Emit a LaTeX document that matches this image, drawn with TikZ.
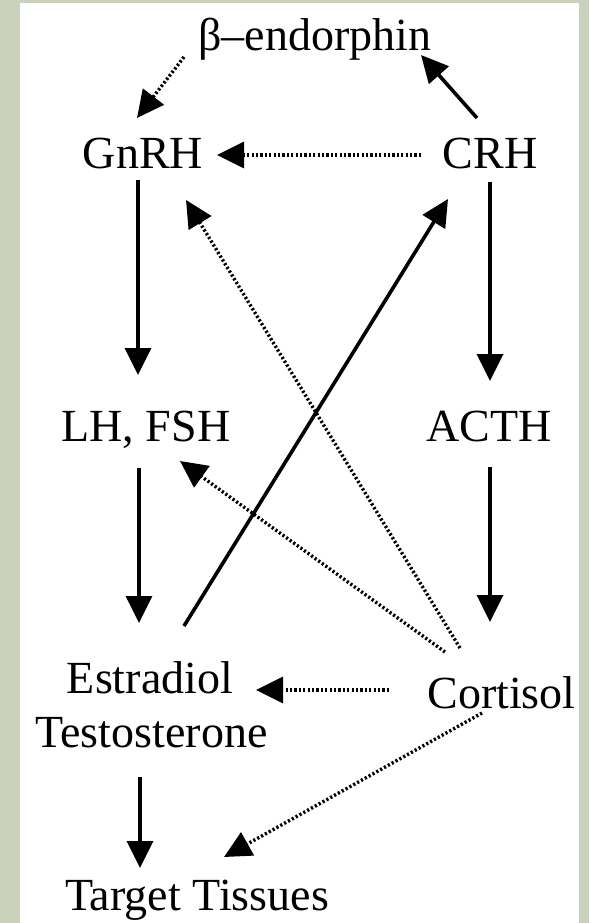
\documentclass[tikz,border=0pt]{standalone}
\usepackage{fontspec}
\setmainfont{Liberation Serif}
\usetikzlibrary{arrows.meta,calc}
\definecolor{framegrey}{RGB}{202,210,189}
\tikzset{
  hormone/.style={inner sep=0pt, anchor=base,
                  font=\fontsize{46}{54}\selectfont},
  drive/.style={-{Triangle[length=27pt,width=26pt]}, line width=3.6pt},
  suppress/.style={-{Triangle[length=27pt,width=26pt]}, line width=3.4pt,
                   dash pattern=on 2.2pt off 2.2pt},
}
\begin{document}
\begin{tikzpicture}[x=1pt,y=-1pt]
  \fill[framegrey] (0,0) rectangle (589,923);
  \fill[white] (19.5,3.5) rectangle (579,923);

  % Hormones, placed at their baselines.
  \node[hormone] (beta)   at (315,51)    {β–endorphin};
  \node[hormone] (gnrh)   at (143,168)   {GnRH};
  \node[hormone] (crh)    at (490,168)   {CRH};
  \node[hormone] (lhfsh)  at (146,441)   {LH, FSH};
  \node[hormone] (acth)   at (489,441)   {ACTH};
  \node[hormone] (estr)   at (150,693)   {Estradiol};
  \node[hormone] (testo)  at (151.5,747) {Testosterone};
  \node[hormone] (cort)   at (501.5,708) {Cortisol};
  \node[hormone] (target) at (197,910)   {Target Tissues};

  % Stimulating axes.
  \draw[drive] ($(crh.base)+(-13,-50)$) -- ($(beta.base)+(106,4)$);
  \draw[drive] ($(gnrh.base)+(-5,12)$) -- ($(lhfsh.base)+(-8,-66)$);
  \draw[drive] ($(lhfsh.base)+(-7,27)$) -- ($(estr.base)+(-11,-70)$);
  \draw[drive] ($(testo.base)+(-11.5,30)$) -- ($(target.base)+(-57,-42)$);
  \draw[drive] ($(crh.base)+(0,14)$) -- ($(acth.base)+(1,-60)$);
  \draw[drive] ($(acth.base)+(1,26)$) -- ($(cort.base)+(-11.5,-86)$);
  \draw[drive] ($(estr.base)+(34,-67)$) -- ($(crh.base)+(-42,31)$);

  % Suppressing links.
  \draw[suppress] ($(beta.base)+(-131,6)$) -- ($(gnrh.base)+(-6,-50)$);
  \draw[suppress] ($(crh.base)+(-69,-13)$) -- ($(gnrh.base)+(74,-13)$);
  \draw[suppress] ($(cort.base)+(-41.5,-60)$) -- ($(gnrh.base)+(43,32)$);
  \draw[suppress] ($(cort.base)+(-56.5,-56)$) -- ($(lhfsh.base)+(34,20)$);
  \draw[suppress] ($(cort.base)+(-112.5,-18)$) -- ($(estr.base)+(106,-3)$);
  \draw[suppress] ($(cort.base)+(-19.5,5)$) -- ($(target.base)+(27,-53)$);
\end{tikzpicture}
\end{document}
